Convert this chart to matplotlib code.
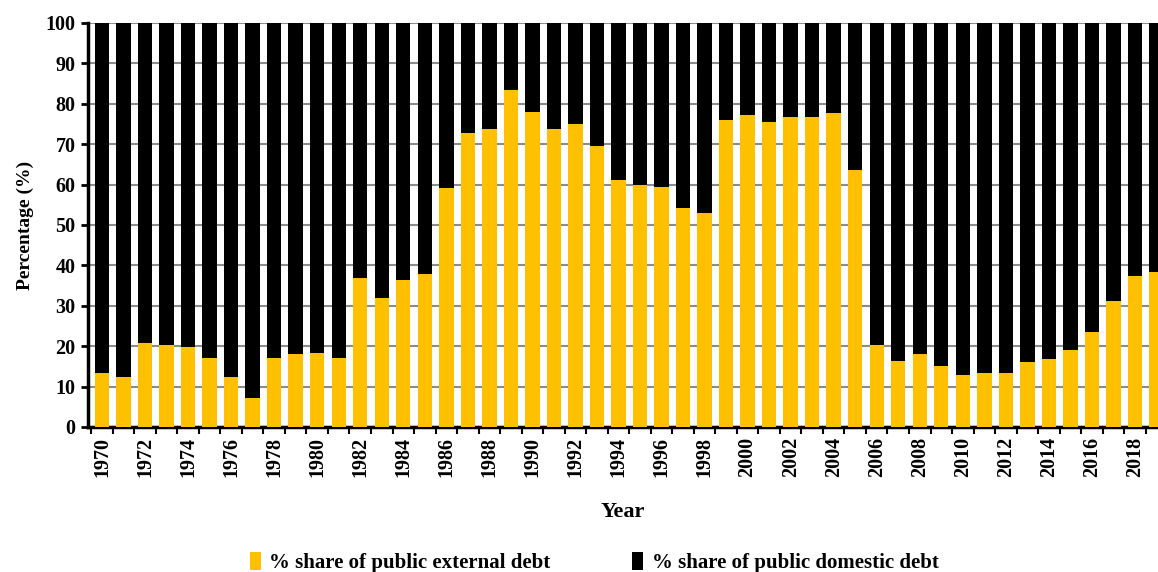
import matplotlib.pyplot as plt
import numpy as np

years = list(range(1970, 2020))
external = [13.4, 12.3, 20.7, 20.4, 19.9, 17.0, 12.3, 7.1, 17.0, 18.1,
            18.3, 17.0, 36.8, 31.9, 36.4, 37.9, 59.2, 72.8, 73.7, 83.3,
            77.9, 73.7, 75.0, 69.5, 61.1, 59.9, 59.3, 54.1, 52.9, 76.0,
            77.2, 75.5, 76.7, 76.7, 77.8, 63.5, 20.2, 16.4, 18.1, 15.2,
            12.8, 13.4, 13.4, 16.0, 16.8, 19.1, 23.5, 31.1, 37.4, 38.4]
domestic = [100 - v for v in external]

plt.rcParams['font.family'] = ['Liberation Serif', 'DejaVu Serif']
plt.rcParams['font.weight'] = 'bold'

fig = plt.figure(figsize=(11.58, 5.72), dpi=100)
ax = fig.add_axes([88 / 1158, 1 - 427 / 572, 1 - 88 / 1158, 404 / 572])

ax.bar(years, external, width=0.67, color='#FFC000', label='% share of public external debt', zorder=3)
ax.bar(years, domestic, width=0.67, bottom=external, color='#000000', label='% share of public domestic debt', zorder=3)

ax.set_xlim(1969.35, 2019.07)
ax.set_ylim(0, 100)
ax.set_yticks(np.arange(0, 101, 10))
ax.yaxis.grid(True, color='#8c8c8c', linewidth=1.5, zorder=0)
ax.set_axisbelow(True)

# tick marks between categories, labels every other year
ax.set_xticks(np.arange(1969.5, 2019.5, 1))
ax.set_xticks(years[::2], minor=True)
ax.set_xticklabels([])
ax.set_xticklabels([str(y) for y in years[::2]], minor=True, rotation=90, fontsize=14.5, fontweight='bold')
ax.tick_params(axis='x', which='minor', length=0, pad=7)
ax.tick_params(axis='x', which='major', length=5, width=1.5, direction='out')
ax.tick_params(axis='y', length=5, width=2, labelsize=14.5, pad=4)
for lbl in ax.get_yticklabels():
    lbl.set_fontweight('bold')

for s in ['top', 'right']:
    ax.spines[s].set_visible(False)
ax.spines['left'].set_linewidth(2.5)
ax.spines['bottom'].set_linewidth(2.5)

ax.set_ylabel('Percentage (%)', fontsize=14, fontweight='bold', labelpad=8)
ax.set_xlabel('Year', fontsize=16, fontweight='bold', labelpad=18)

fig.legend(loc='lower center', bbox_to_anchor=(0.513, -0.035), ncol=2, frameon=False,
           fontsize=15, handlelength=0.55, handleheight=1.0, handletextpad=0.4,
           columnspacing=3.9)

fig.savefig('out.png', dpi=100)
